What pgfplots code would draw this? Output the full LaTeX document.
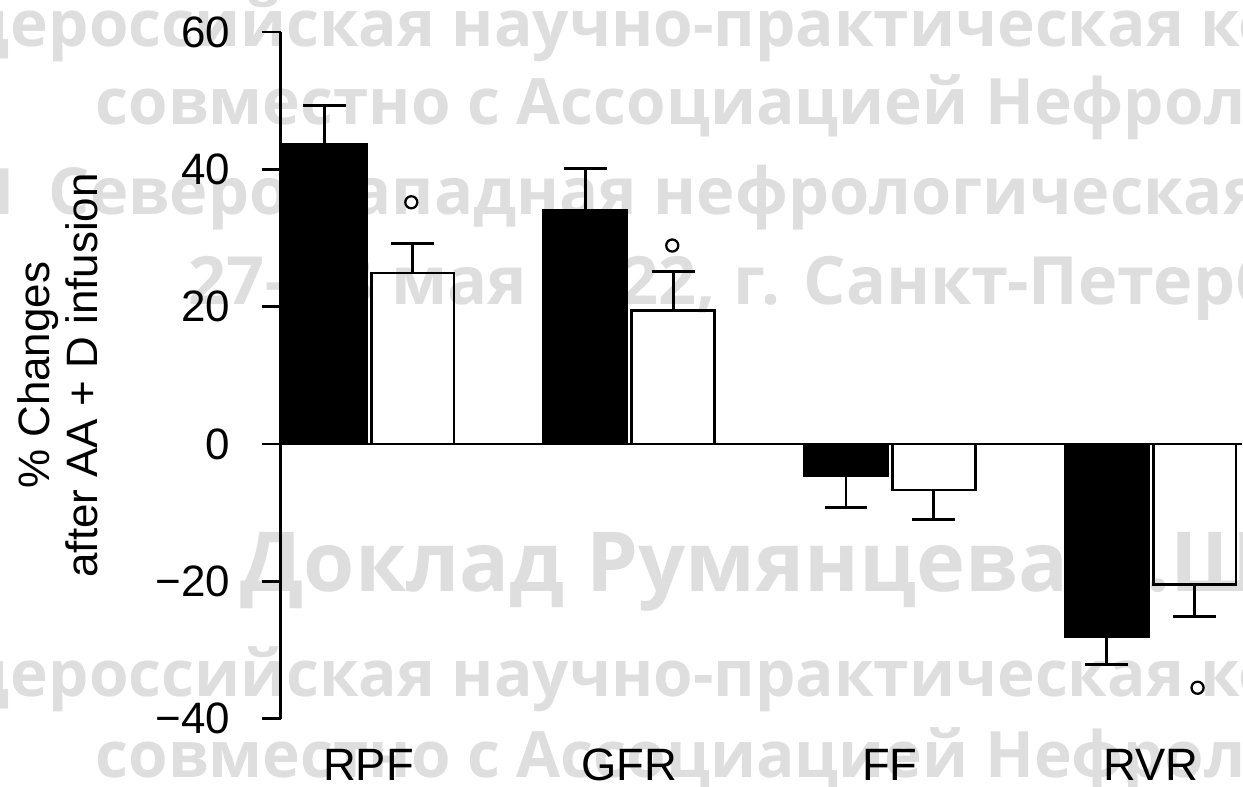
\documentclass[border=0pt]{standalone}
\usepackage{fontspec}
\setmainfont{Liberation Sans}
\newfontfamily\wmfont{Open Sans}
\usepackage{pgfplots}
\pgfplotsset{compat=1.18}
\begin{document}
\begin{tikzpicture}
\begin{scope}[shift={(-88.56pt,106.68pt)},x=0.24pt,y=-0.24pt]
\useasboundingbox (0,0) rectangle (1243,787);
\tikzset{wm/.style={inner sep=0pt, text=black!13, font=\wmfont\bfseries\fontsize{15.36}{18}\selectfont}}
\node[wm,anchor=base east] at (10,47) {Общ};
\node[wm,anchor=base west] at (10,47) {ероссийская научно-практическая конференция};
\node[wm,anchor=base west] at (95,125) {совместно с Ассоциацией Нефрологов};
\node[wm,anchor=base east] at (16,215) {XI};
\node[wm,anchor=base west,font=\wmfont\bfseries\fontsize{15.6}{18}\selectfont] at (48,215) {Северо-Западная нефрологическая конференция};
\node[wm,anchor=base west,font=\wmfont\bfseries\fontsize{16.0}{18}\selectfont] at (188,305) {27–28 мая 2022, г. Санкт-Петербург};
\node[wm,anchor=base west,font=\wmfont\bfseries\fontsize{19.9}{22}\selectfont] at (240,592) {Доклад Румянцева А.Ш.};
\node[wm,anchor=base east] at (10,697) {Общ};
\node[wm,anchor=base west] at (10,697) {ероссийская научно-практическая конференция};
\node[wm,anchor=base west] at (95,778) {совместно с Ассоциацией Нефрологов};
\end{scope}
\begin{axis}[
  at={(0,0)}, anchor=origin,
  x=62.64pt, y=1.65pt,
  xmin=-0.337, xmax=3.3487, ymin=-40, ymax=60,
  axis lines=left,
  axis line style={-, line width=0.7pt},
  x axis line style={draw=none},
  xtick={0,1,2,3}, xticklabels={RPF,GFR,FF,RVR},
  xtick style={draw=none},
  ytick={-40,-20,0,20,40,60}, yticklabels={−40,−20,0,20,40,60},
  tick align=outside, major tick length=4.56pt,
  ytick style={line width=0.7pt, black},
  tick label style={font=\fontsize{10.56}{12.7}\selectfont},
  yticklabel style={inner sep=0pt, anchor=east, xshift=-7.4pt},
  xticklabel style={inner sep=0pt, anchor=base, yshift=-10.4pt, font=\fontsize{10.9}{12.7}\selectfont},
  ylabel={\% Changes\\after AA + D infusion},
  ylabel style={align=center, font=\fontsize{10.56}{11.52}\selectfont, at={(axis description cs:-0.2318,0.5)}, anchor=center},
  clip=false,
]
\addplot[ybar, bar width=19.92pt, bar shift=0pt, fill=black, draw=black, line width=0.7pt,
  error bars/.cd, y dir=plus, y explicit, error bar style={line width=0.7pt},
  error mark options={rotate=90, mark size=5.16pt, line width=0.7pt}]
  coordinates {(-0.1686,43.6) +- (0,5.7) (0.8314,34.0) +- (0,6.1)};
\addplot[ybar, bar width=19.92pt, bar shift=0pt, fill=black, draw=black, line width=0.7pt,
  error bars/.cd, y dir=minus, y explicit, error bar style={line width=0.7pt},
  error mark options={rotate=90, mark size=5.16pt, line width=0.7pt}]
  coordinates {(1.8314,-4.6) +- (0,4.7) (2.8314,-28.0) +- (0,4.1)};
\addplot[ybar, bar width=19.92pt, bar shift=0pt, fill=none, draw=black, line width=0.7pt,
  error bars/.cd, y dir=plus, y explicit, error bar style={line width=0.7pt},
  error mark options={rotate=90, mark size=5.16pt, line width=0.7pt}]
  coordinates {(0.1686,24.9) +- (0,4.3) (1.1686,19.5) +- (0,5.6)};
\addplot[ybar, bar width=19.92pt, bar shift=0pt, fill=none, draw=black, line width=0.7pt,
  error bars/.cd, y dir=minus, y explicit, error bar style={line width=0.7pt},
  error mark options={rotate=90, mark size=5.16pt, line width=0.7pt}]
  coordinates {(2.1686,-6.7) +- (0,4.3) (3.1686,-20.4) +- (0,4.7)};
\addplot[only marks, mark=o, mark size=1.45pt, mark options={line width=0.55pt, black}]
  coordinates {(0.164,35.2) (1.165,28.9) (3.18,-35.5)};
\draw[line width=0.7pt] (axis cs:-0.337,0) -- (axis cs:3.3487,0);
\end{axis}
\end{tikzpicture}
\end{document}
